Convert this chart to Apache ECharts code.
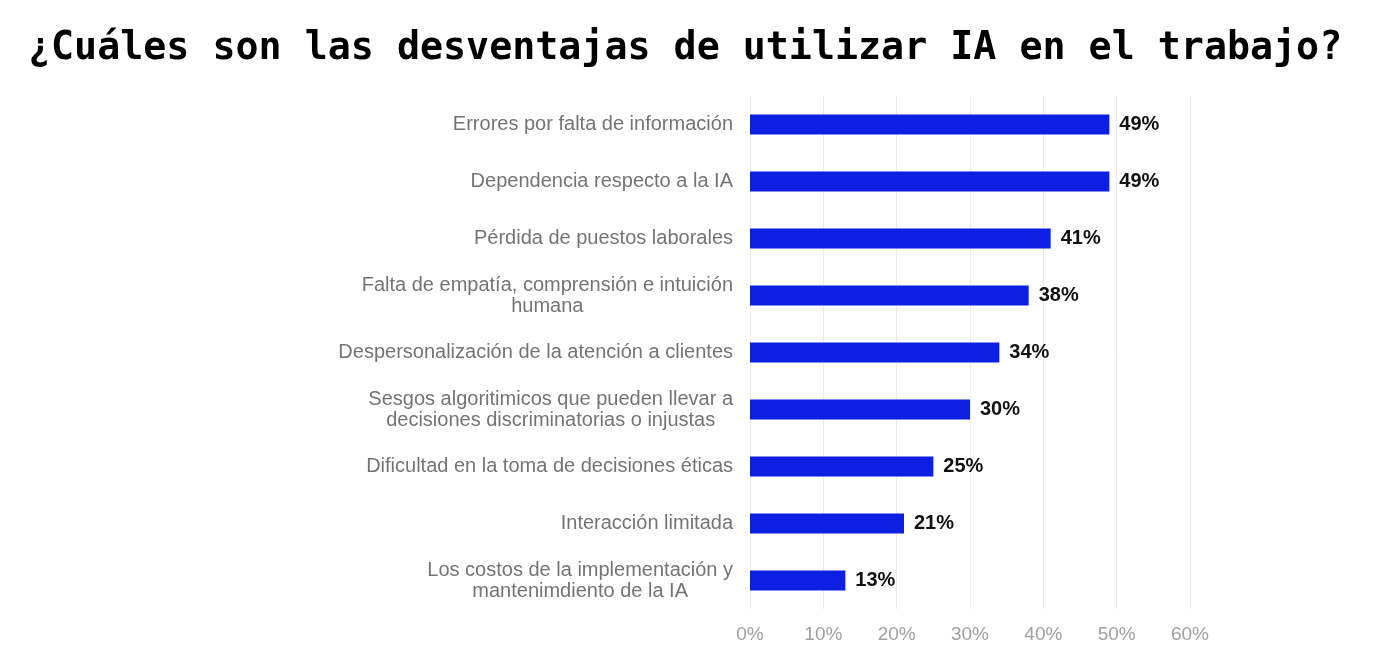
<!DOCTYPE html>
<html>
<head>
<meta charset="utf-8">
<script src="https://cdn.jsdelivr.net/npm/echarts@6/dist/echarts.min.js"></script>
<style>
  html, body { margin: 0; padding: 0; background: #fff; }
  #chart { width: 1388px; height: 670px; }
</style>
</head>
<body>
<div id="chart"></div>
<script>
const categories = [
    'Errores por falta de información',
    'Dependencia respecto a la IA',
    'Pérdida de puestos laborales',
    'Falta de empatía, comprensión e intuición\nhumana',
    'Despersonalización de la atención a clientes',
    'Sesgos algoritimicos que pueden llevar a\ndecisiones discriminatorias o injustas',
    'Dificultad en la toma de decisiones éticas',
    'Interacción limitada',
    'Los costos de la implementación y\nmantenimdiento de la IA'
];
const values = [49, 49, 41, 38, 34, 30, 25, 21, 13];
const xTicks = [0, 10, 20, 30, 40, 50, 60];

const chart = echarts.init(document.getElementById('chart'));

const option = {
    backgroundColor: '#ffffff',
    title: {
        text: '¿Cuáles son las desventajas de utilizar IA en el trabajo?',
        left: 23,
        top: 25,
        textStyle: {
            fontFamily: 'DejaVu Sans Mono',
            fontWeight: 'bold',
            fontSize: 38.3,
            color: '#000'
        }
    },
    grid: {
        left: 750,
        right: 198,
        top: 96,
        bottom: 61
    },
    xAxis: {
        type: 'value',
        min: xTicks[0],
        max: xTicks[xTicks.length - 1],
        interval: 10,
        axisLine: { show: false },
        axisTick: { show: false },
        splitLine: { lineStyle: { color: '#ececec', width: 1 } },
        axisLabel: {
            formatter: '{value}%',
            color: '#a0a0a0',
            fontFamily: 'Liberation Sans',
            fontSize: 19,
            margin: 16
        }
    },
    yAxis: {
        type: 'category',
        inverse: true,
        data: categories,
        axisLine: { show: false },
        axisTick: { show: false },
        axisLabel: {
            margin: 17,
            align: 'right',
            formatter: function (v) {
                return v.split('\n').map(function (l) { return '{c|' + l + '}'; }).join('\n');
            },
            rich: {
                c: {
                    align: 'center',
                    color: '#747474',
                    fontFamily: 'Liberation Sans',
                    fontSize: 20,
                    lineHeight: 21
                }
            }
        }
    },
    series: [{
        type: 'bar',
        data: values,
        barWidth: 20,
        itemStyle: { color: '#0d1fe0' },
        label: {
            show: true,
            position: 'right',
            distance: 10,
            formatter: '{c}%',
            color: '#111',
            fontFamily: 'Liberation Sans',
            fontWeight: 'bold',
            fontSize: 20
        }
    }]
};

chart.setOption(option);
</script>
</body>
</html>
